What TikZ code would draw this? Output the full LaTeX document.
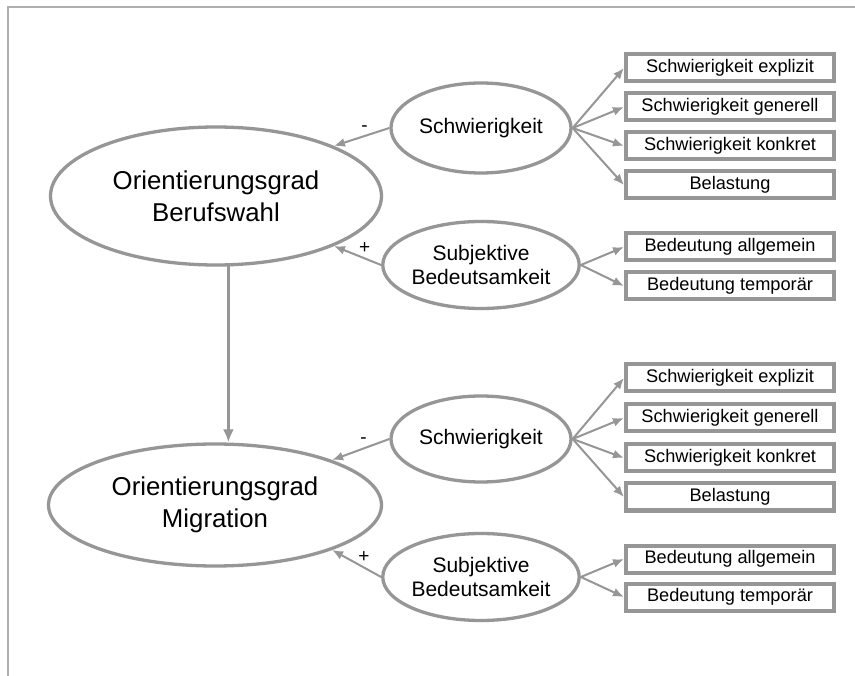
\documentclass[tikz,border=0pt]{standalone}
\usepackage{fontspec}
\setmainfont{Liberation Sans}
\usetikzlibrary{shapes.geometric,arrows.meta}
\definecolor{linegray}{RGB}{150,150,150}
\definecolor{framegray}{RGB}{175,175,175}
\begin{document}
\begin{tikzpicture}[x=1pt,y=-1pt,
  construct/.style={ellipse, draw=linegray, line width=3.3pt, inner sep=0pt,
    align=center, font=\fontsize{25.8}{32}\selectfont},
  factor/.style={ellipse, draw=linegray, line width=3.3pt, inner sep=0pt,
    minimum width=180pt, align=center, font=\fontsize{21}{24}\selectfont},
  item/.style={rectangle, draw=linegray, line width=4pt, inner sep=0pt,
    minimum width=208pt, minimum height=27pt, font=\fontsize{18.2}{20}\selectfont},
  link/.style={draw=linegray, line width=2pt, -{Latex[length=11pt,width=9pt]}},
  path link/.style={draw=linegray, line width=3pt, -{Latex[length=13pt,width=11pt]}},
  sign/.style={font=\fontsize{19}{20}\selectfont, inner sep=1pt}]

\useasboundingbox (0,0) rectangle (855,676);
\fill[white] (0,0) rectangle (855,676);

% page frame
\draw[framegray, line width=1.5pt] (8,676) -- (8,7) -- (855,7);

% main constructs
\node[construct, minimum width=331pt, minimum height=138pt] (ogb) at (216,196)
  {Orientierungsgrad\\Berufswahl};
\node[construct, minimum width=333pt, minimum height=122pt] (ogm) at (215,505)
  {Orientierungsgrad\\Migration};

% factors of the first construct
\node[factor, minimum height=90pt] (sw1) at (481,128) {Schwierigkeit};
\node[factor, minimum height=87pt] (sb1) at (481,265) {Subjektive\\Bedeutsamkeit};

% factors of the second construct
\node[factor, minimum height=86pt] (sw2) at (481,439) {Schwierigkeit};
\node[factor, minimum height=87pt] (sb2) at (481,577) {Subjektive\\Bedeutsamkeit};

% indicator items, upper block
\node[item] (a1) at (730,68)  {Schwierigkeit explizit};
\node[item] (a2) at (730,107) {Schwierigkeit generell};
\node[item] (a3) at (730,146) {Schwierigkeit konkret};
\node[item] (a4) at (730,185) {Belastung};
\node[item] (a5) at (730,247) {Bedeutung allgemein};
\node[item] (a6) at (730,286) {Bedeutung temporär};

% indicator items, lower block
\node[item] (b1) at (730,378) {Schwierigkeit explizit};
\node[item] (b2) at (730,418) {Schwierigkeit generell};
\node[item] (b3) at (730,458) {Schwierigkeit konkret};
\node[item] (b4) at (730,497) {Belastung};
\node[item] (b5) at (730,559) {Bedeutung allgemein};
\node[item] (b6) at (730,597) {Bedeutung temporär};

% factor -> item arrows
\foreach \t in {a1,a2,a3,a4} \draw[link] (sw1.east) -- (\t.west);
\foreach \t in {a5,a6} \draw[link] (sb1.east) -- (\t.west);
\foreach \t in {b1,b2,b3,b4} \draw[link] (sw2.east) -- (\t.west);
\foreach \t in {b5,b6} \draw[link] (sb2.east) -- (\t.west);

% factor -> construct arrows with signs
\draw[link] (sw1.west) -- node[sign, pos=0.45, above=3pt] {-} (ogb.23);
\draw[link] (sb1.west) -- node[sign, pos=0.35, above=3pt] {+} (ogb.-23);
\draw[link] (sw2.west) -- node[sign, pos=0.45, above=3pt] {-} (ogm.21);
\draw[link] (sb2.west) -- node[sign, pos=0.35, above=3pt] {+} (ogm.-21);

% path between the two constructs
\draw[path link] (ogb.-80) -- (ogb.-80 |- ogm.north);

\end{tikzpicture}
\end{document}
